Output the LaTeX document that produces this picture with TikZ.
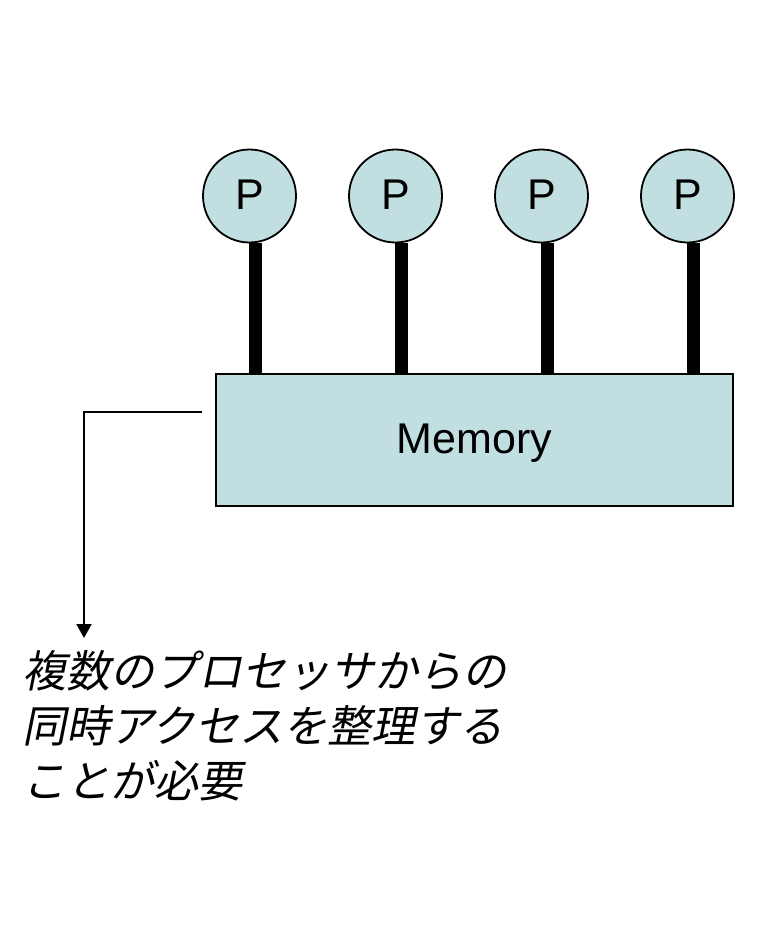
\documentclass[tikz,border=0pt]{standalone}
\usepackage{fontspec}
\setmainfont{Liberation Sans}
\newfontfamily\jpfont[FakeSlant=0.2]{Noto Sans CJK JP}
\usepackage{tikz}
\usetikzlibrary{arrows.meta, positioning, calc}

\definecolor{cellfill}{RGB}{193,223,224}

\begin{document}
\begin{tikzpicture}[
    x=1pt, y=-1pt,
    proc/.style={circle, draw=black, line width=1.8pt, fill=cellfill, minimum size=93pt, inner sep=0pt, text height=31pt, text depth=5pt, font=\fontsize{43}{50}\selectfont},
    memory/.style={rectangle, draw=black, line width=1.8pt, fill=cellfill, minimum width=517pt, minimum height=132pt, inner sep=0pt, text height=31pt, text depth=4pt, font=\fontsize{43}{50}\selectfont},
    bus/.style={line width=13pt},
    pointer/.style={-{Triangle[length=14pt, width=15pt]}, line width=2.2pt},
    note/.style={anchor=north west, inner sep=0pt, align=left, font=\jpfont\fontsize{44}{55}\selectfont}
]
\useasboundingbox (0,0) rectangle (782,938);

% Processors
\node[proc] (p1) at (249.5, 196) {P};
\node[proc] (p2) at (395.5, 196) {P};
\node[proc] (p3) at (541.5, 196) {P};
\node[proc] (p4) at (687.5, 196) {P};

% Shared memory
\node[memory] (mem) at (474.5, 440) {Memory};

% Buses
\foreach \p in {p1, p2, p3, p4}
    \draw[bus] ([xshift=6pt]\p.south) -- ([xshift=6pt]\p.south |- mem.north);

% Note
\coordinate (ptr) at (202, 412);
\coordinate (tip) at (84, 638);
\node[note] (text) at (22, 650) {複数のプロセッサからの\\同時アクセスを整理する\\ことが必要};
\draw[pointer] (ptr) -| (tip);

\end{tikzpicture}
\end{document}
